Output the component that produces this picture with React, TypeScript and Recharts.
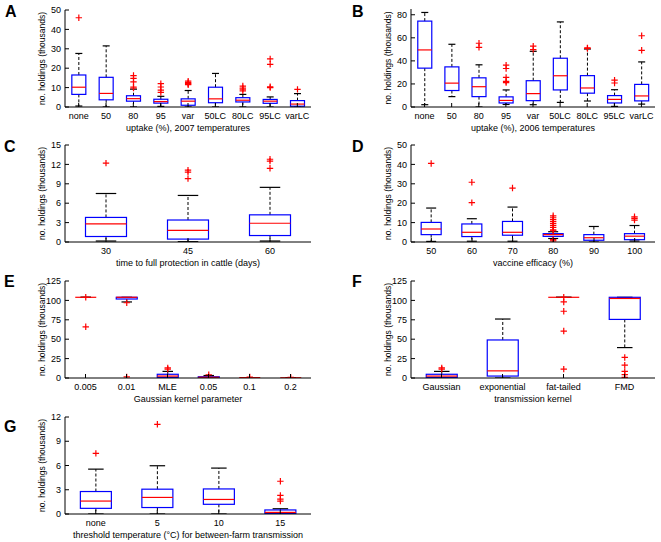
import React from 'react';
import { ComposedChart, Bar, XAxis, YAxis } from 'recharts';

const FONT = '"Liberation Sans", Arial, Helvetica, sans-serif';

// ---------- Panel A ----------
const aCats = ['none', '50', '80', '95', 'var', '50LC', '80LC', '95LC', 'varLC'];
const aLo = [0.5, 0, 0, 0.3, 0, 0, 0, 0, 0];
const aQ1 = [6.5, 3.7, 3.0, 2.0, 0.9, 2.2, 2.6, 1.9, 0.4];
const aMed = [10.2, 7.0, 4.3, 2.8, 3.0, 4.2, 3.5, 3.0, 1.5];
const aQ3 = [16.5, 15.3, 5.8, 4.0, 4.2, 10.2, 4.8, 3.9, 3.3];
const aHi = [27.6, 31.5, 9.2, 5.5, 8.5, 17.3, 6.5, 5.2, 6.9];
const aOut = [[46], [], [16.2, 14.8, 13, 10.3, 9.8], [12, 10.3, 8.7, 7.5], [13.3, 12.6, 12, 11.5], [], [10.8, 9.8, 9.2, 8.3], [24.8, 22, 10.4, 10], [9.1]];
const aTicks = [0, 10, 20, 30, 40, 50];

// ---------- Panel B ----------
const bCats = ['none', '50', '80', '95', 'var', '50LC', '80LC', '95LC', 'varLC'];
const bLo = [2, 9, 0, 2.2, 2, 4, 5.2, 0.5, 2.5];
const bQ1 = [33.7, 14.3, 9, 3.5, 5.5, 14.8, 12, 3.5, 5.3];
const bMed = [49.5, 20.7, 17.6, 5.7, 11.6, 27.1, 16.5, 6.6, 9.6];
const bQ3 = [74.5, 34.8, 25.3, 8.8, 22.8, 42.3, 27.2, 9.9, 19.6];
const bHi = [82, 54.4, 36.6, 14.8, 48.3, 73.8, 50.3, 15, 39.1];
const bOut = [[], [], [55.3, 51.8], [36.3, 33.4, 25.7, 22.3, 21.1], [52.8, 49.8], [], [51.3, 50.8], [23.3, 20.8], [61.8, 49.2]];
const bTicks = [0, 20, 40, 60, 80];

// ---------- Panel C ----------
const cCats = ['30', '45', '60'];
const cLo = [0.15, 0.05, 0.15];
const cQ1 = [0.85, 0.45, 1.0];
const cMed = [2.8, 1.8, 2.9];
const cQ3 = [3.8, 3.4, 4.2];
const cHi = [7.5, 7.2, 8.45];
const cOut = [[12.2], [11.1, 10.8, 9.8], [12.8, 12.5, 11.4]];
const cTicks = [0, 3, 6, 9, 12, 15];

// ---------- Panel D ----------
const dCats = ['50', '60', '70', '80', '90', '100'];
const dLo = [0.3, 0.4, 0.4, 1.8, 0, 0.5];
const dQ1 = [3.8, 2.8, 3.5, 2.9, 0.9, 1.2];
const dMed = [6.7, 5.0, 5.0, 3.8, 2.2, 3.0];
const dQ3 = [10.1, 9.3, 10.6, 4.3, 3.8, 4.3];
const dHi = [17.5, 12.0, 18.0, 5.3, 8.0, 8.5];
const dOut = [[40.5], [30.8, 20.3], [27.8], [13.5, 12.5, 11.5, 10.5, 9.5, 8.5, 7.5, 6.3, 5.8, 1.2, 0.6], [], [13, 12.2, 11.3]];
const dTicks = [0, 10, 20, 30, 40, 50];

// ---------- Panel E ----------
const eCats = ['0.005', '0.01', 'MLE', '0.05', '0.1', '0.2'];
const eLo = [104, 98, 0, 0.2, 0.5, 0.3];
const eQ1 = [104, 101.8, 0.8, 0.5, 0.5, 0.3];
const eMed = [104, 104, 2.5, 1, 0.5, 0.3];
const eQ3 = [104, 104, 4.8, 1.6, 0.5, 0.3];
const eHi = [104, 104, 8.5, 3.2, 0.5, 0.3];
const eOut = [[104, 66], [97, 1.5], [13, 11.5], [4.2], [1.3], [0.8]];
const eTicks = [0, 25, 50, 75, 100, 125];

// ---------- Panel F ----------
const fCats = ['Gaussian', 'exponential', 'fat-tailed', 'FMD'];
const fLo = [0, 0, 104, 39.2];
const fQ1 = [0.8, 2.5, 104, 75.5];
const fMed = [2.5, 9.2, 104, 102.5];
const fQ3 = [4.8, 49, 104, 104];
const fHi = [8.5, 76, 104, 104];
const fOut = [[13, 11.5], [], [104, 98, 86, 60.5, 11.5], [26.5, 16.6, 8.5, 4.3, 0.8]];
const fTicks = [0, 25, 50, 75, 100, 125];

// ---------- Panel G ----------
const gCats = ['none', '5', '10', '15'];
const gLo = [0, 0, 0, 0];
const gQ1 = [0.7, 0.8, 1.2, 0.05];
const gMed = [1.6, 2.05, 1.8, 0.2];
const gQ3 = [2.78, 3.07, 3.1, 0.5];
const gHi = [5.55, 5.97, 5.68, 0.65];
const gOut = [[7.5], [11.1], [], [4.05, 2.3, 1.85, 1.6]];
const gTicks = [0, 3, 6, 9, 12];

const BLUE = '#0000ff';
const RED = '#ff0000';

function makeShape(domain: [number, number]) {
  return (props: any) => {
    const { x, y, width, height, payload } = props;
    const [d0, d1] = domain;
    const py = (v: number) => y + (height * (d1 - v)) / (d1 - d0);
    const cx = x + width / 2;
    const cw = width / 4;
    const s = 3.2;
    return (
      <g>
        <line x1={cx} x2={cx} y1={py(payload.q3)} y2={py(payload.hi)} stroke="#000" strokeWidth={1} strokeDasharray="3 2" />
        <line x1={cx} x2={cx} y1={py(payload.q1)} y2={py(payload.lo)} stroke="#000" strokeWidth={1} strokeDasharray="3 2" />
        <line x1={cx - cw} x2={cx + cw} y1={py(payload.hi)} y2={py(payload.hi)} stroke="#000" strokeWidth={1.2} />
        <line x1={cx - cw} x2={cx + cw} y1={py(payload.lo)} y2={py(payload.lo)} stroke="#000" strokeWidth={1.2} />
        <rect x={x} y={py(payload.q3)} width={width} height={Math.max(0, py(payload.q1) - py(payload.q3))} fill="none" stroke={BLUE} strokeWidth={1.2} />
        <line x1={x} x2={x + width} y1={py(payload.med)} y2={py(payload.med)} stroke={RED} strokeWidth={1.2} />
        {payload.out.map((v: number, i: number) => {
          const yy = py(v);
          return (
            <path key={i} d={`M${cx - s},${yy}H${cx + s}M${cx},${yy - s}V${yy + s}`} stroke={RED} strokeWidth={1.2} fill="none" />
          );
        })}
      </g>
    );
  };
}

type PanelProps = {
  cats: string[];
  lo: number[];
  q1: number[];
  med: number[];
  q3: number[];
  hi: number[];
  out: number[][];
  domain: [number, number];
  ticks: number[];
  xLabel: string;
  left: number;
  top: number;
  width: number;
  height: number;
};

const tickStyle = { fontSize: 9, fill: '#000', fontFamily: FONT };

function Panel(p: PanelProps) {
  const data = p.cats.map((c, i) => ({
    cat: c,
    lo: p.lo[i],
    q1: p.q1[i],
    med: p.med[i],
    q3: p.q3[i],
    hi: p.hi[i],
    out: p.out[i],
  }));
  const ML = 50;
  const MT = 5;
  const MR = 5;
  const XH = 24;
  const MB = 6;
  return (
    <div style={{ position: 'absolute', left: p.left - ML, top: p.top - MT }}>
      <ComposedChart
        width={ML + p.width + MR}
        height={MT + p.height + XH + MB}
        data={data}
        margin={{ top: MT, right: MR, left: 0, bottom: MB }}
        barCategoryGap="25%"
      >
        <XAxis
          xAxisId="b"
          dataKey="cat"
          orientation="bottom"
          height={XH}
          interval={0}
          tickSize={-4}
          tickMargin={10}
          tick={tickStyle}
          axisLine={{ stroke: '#000' }}
          tickLine={{ stroke: '#000' }}
          label={{ value: p.xLabel, position: 'insideBottom', offset: 0, fontSize: 9, fill: '#000', style: { fontFamily: FONT, fontSize: 9, fill: '#000' } }}
        />
        <XAxis
          xAxisId="t"
          dataKey="cat"
          orientation="top"
          height={0}
          interval={0}
          tickSize={-4}
          tickFormatter={() => ''}
          axisLine={{ stroke: '#000' }}
          tickLine={{ stroke: '#000' }}
        />
        <YAxis
          yAxisId="l"
          width={ML}
          type="number"
          domain={p.domain}
          allowDataOverflow
          ticks={p.ticks}
          interval={0}
          tickSize={-4}
          tickMargin={8}
          tick={tickStyle}
          axisLine={{ stroke: '#000' }}
          tickLine={{ stroke: '#000' }}
          label={{ value: 'no. holdings (thousands)', angle: -90, position: 'insideLeft', offset: 27, fontSize: 8.5, fill: '#000', style: { textAnchor: 'middle', fontFamily: FONT, fontSize: 8.5, fill: '#000' } }}
        />
        <YAxis
          yAxisId="r"
          orientation="right"
          width={0}
          type="number"
          domain={p.domain}
          allowDataOverflow
          ticks={p.ticks}
          interval={0}
          tickSize={-4}
          tickFormatter={() => ''}
          axisLine={{ stroke: '#000' }}
          tickLine={{ stroke: '#000' }}
        />
        <Bar
          xAxisId="b"
          yAxisId="l"
          dataKey={() => p.domain}
          shape={makeShape(p.domain)}
          isAnimationActive={false}
        />
      </ComposedChart>
    </div>
  );
}

const LX = 65;
const LW = 246;
const RX = 411;
const RW = 244;
const PH = 97;

export default function App() {
  return (
    <div style={{ position: 'absolute', left: 0, top: 0, width: 661, height: 542, background: '#fff', fontFamily: FONT }}>
      <Panel cats={aCats} lo={aLo} q1={aQ1} med={aMed} q3={aQ3} hi={aHi} out={aOut} domain={[0, 50]} ticks={aTicks}
        xLabel="uptake (%), 2007 temperatures" left={LX} top={10} width={LW} height={PH} />
      <Panel cats={bCats} lo={bLo} q1={bQ1} med={bMed} q3={bQ3} hi={bHi} out={bOut} domain={[0, 85]} ticks={bTicks}
        xLabel="uptake (%), 2006 temperatures" left={RX} top={9} width={RW} height={98} />
      <Panel cats={cCats} lo={cLo} q1={cQ1} med={cMed} q3={cQ3} hi={cHi} out={cOut} domain={[0, 15]} ticks={cTicks}
        xLabel="time to full protection in cattle (days)" left={LX} top={145} width={LW} height={PH} />
      <Panel cats={dCats} lo={dLo} q1={dQ1} med={dMed} q3={dQ3} hi={dHi} out={dOut} domain={[0, 50]} ticks={dTicks}
        xLabel="vaccine efficacy (%)" left={RX} top={145} width={RW} height={PH} />
      <Panel cats={eCats} lo={eLo} q1={eQ1} med={eMed} q3={eQ3} hi={eHi} out={eOut} domain={[0, 125]} ticks={eTicks}
        xLabel="Gaussian kernel parameter" left={LX} top={281} width={LW} height={PH} />
      <Panel cats={fCats} lo={fLo} q1={fQ1} med={fMed} q3={fQ3} hi={fHi} out={fOut} domain={[0, 125]} ticks={fTicks}
        xLabel="transmission kernel" left={RX} top={281} width={RW} height={PH} />
      <Panel cats={gCats} lo={gLo} q1={gQ1} med={gMed} q3={gQ3} hi={gHi} out={gOut} domain={[0, 12]} ticks={gTicks}
        xLabel="threshold temperature (°C) for between-farm transmission" left={LX} top={417} width={LW} height={PH} />
      <svg width={661} height={542} style={{ position: 'absolute', left: 0, top: 0, pointerEvents: 'none' }}>
        <g fontFamily={FONT} fontWeight="bold" fontSize={16} fill="#000">
          <text x={5} y={17}>A</text>
          <text x={352} y={17}>B</text>
          <text x={4} y={152}>C</text>
          <text x={352} y={152}>D</text>
          <text x={4} y={287}>E</text>
          <text x={352} y={287}>F</text>
          <text x={4} y={432}>G</text>
        </g>
      </svg>
    </div>
  );
}
